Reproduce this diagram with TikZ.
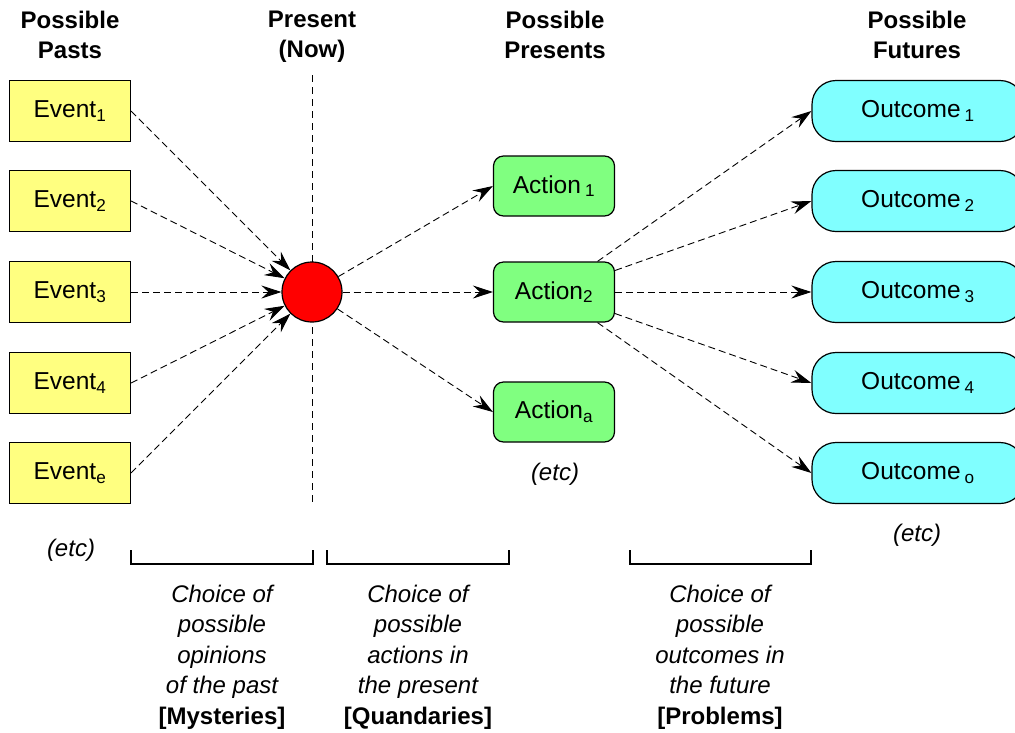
\documentclass[tikz,border=0pt]{standalone}
\usepackage{fontspec}
\setmainfont{Liberation Sans}
\usetikzlibrary{arrows.meta}
\definecolor{evyellow}{HTML}{FFFF80}
\definecolor{acgreen}{HTML}{80FF80}
\definecolor{oucyan}{HTML}{80FFFF}
\begin{document}
\begin{tikzpicture}[x=1pt,y=-1pt,
  boxfont/.style={font=\fontsize{24.5}{28}\selectfont},
  evbox/.style={boxfont, draw, line width=1.2pt, fill=evyellow, minimum width=121pt, minimum height=61pt, inner sep=0pt},
  acbox/.style={boxfont, draw, line width=1.2pt, fill=acgreen, rounded corners=10pt, minimum width=121pt, minimum height=60pt, inner sep=0pt},
  oubox/.style={boxfont, draw, line width=1.2pt, fill=oucyan, rounded corners=24pt, minimum width=212pt, minimum height=61pt, inner sep=0pt},
  head/.style={font=\fontsize{24}{30}\selectfont\bfseries, align=center},
  etc/.style={font=\fontsize{24}{28}\selectfont\itshape},
  note/.style={font=\fontsize{24}{30.5}\selectfont, align=center},
  arr/.style={line width=0.9pt, dash pattern=on 7pt off 4pt, -{Stealth[length=20pt,width=13pt,inset=7pt]}},
  brk/.style={line width=1.2pt}
]
\clip (0,0) rectangle (1015,732);
% headings
\node[head] (h1) at (70,39) {Possible\\Pasts\strut};
\node[head] (h2) at (312,39) {Present\\(Now)\strut};
\node[head] (h3) at (555,39) {Possible\\Presents\strut};
\node[head] (h4) at (917,39) {Possible\\Futures\strut};
% present line
\coordinate (vt) at (312,75);
\coordinate (vb) at (312,505);
\draw[line width=0.9pt, dash pattern=on 7pt off 5pt] (vt) -- (vb);
% events
\node[evbox] (e1) at (70,111) {Event\textsubscript{1}};
\node[evbox] (e2) at (70,201) {Event\textsubscript{2}};
\node[evbox] (e3) at (70,292) {Event\textsubscript{3}};
\node[evbox] (e4) at (70,383) {Event\textsubscript{4}};
\node[evbox] (e5) at (70,473) {Event\textsubscript{e}};
% present circle
\node[circle, draw, line width=1.2pt, fill=red, minimum size=60pt, inner sep=0pt] (c) at (312,292) {};
% actions
\node[acbox] (a1) at (554,186) {Action\,\textsubscript{1}};
\node[acbox] (a2) at (554,292) {Action\textsubscript{2}};
\node[acbox] (a3) at (554,412) {Action\textsubscript{a}};
% outcomes
\node[oubox] (o1) at (918,111) {Outcome\,\textsubscript{1}};
\node[oubox] (o2) at (918,201) {Outcome\,\textsubscript{2}};
\node[oubox] (o3) at (918,292) {Outcome\,\textsubscript{3}};
\node[oubox] (o4) at (918,383) {Outcome\,\textsubscript{4}};
\node[oubox] (o5) at (918,473) {Outcome\,\textsubscript{o}};
% etc
\node[etc] (x1) at (71,550) {(etc)};
\node[etc] (x2) at (555,474) {(etc)};
\node[etc] (x3) at (917,535) {(etc)};
% arrows
\foreach \e in {e1,e2,e3,e4,e5} \draw[arr] (\e.east) -- (c);
\draw[arr] (c) -- (a1.west);
\draw[arr] (c) -- (a2.west);
\draw[arr] (c) -- (a3.west);
\foreach \o in {o1,o2,o3,o4,o5} \draw[arr] (a2) -- (\o.west);
% brackets
\draw[brk] (131,550) -- (131,564) -- (313,564) -- (313,550);
\draw[brk] (327,550) -- (327,564) -- (509,564) -- (509,550);
\draw[brk] (630,550) -- (630,564) -- (811,564) -- (811,550);
% notes
\node[note] (n1) at (222,657) {\itshape Choice of\\\itshape possible\\\itshape opinions\\\itshape of the past\\\bfseries [Mysteries]};
\node[note] (n2) at (418,657) {\itshape Choice of\\\itshape possible\\\itshape actions in\\\itshape the present\\\bfseries [Quandaries]};
\node[note] (n3) at (720,657) {\itshape Choice of\\\itshape possible\\\itshape outcomes in\\\itshape the future\\\bfseries [Problems]};
\end{tikzpicture}
\end{document}
